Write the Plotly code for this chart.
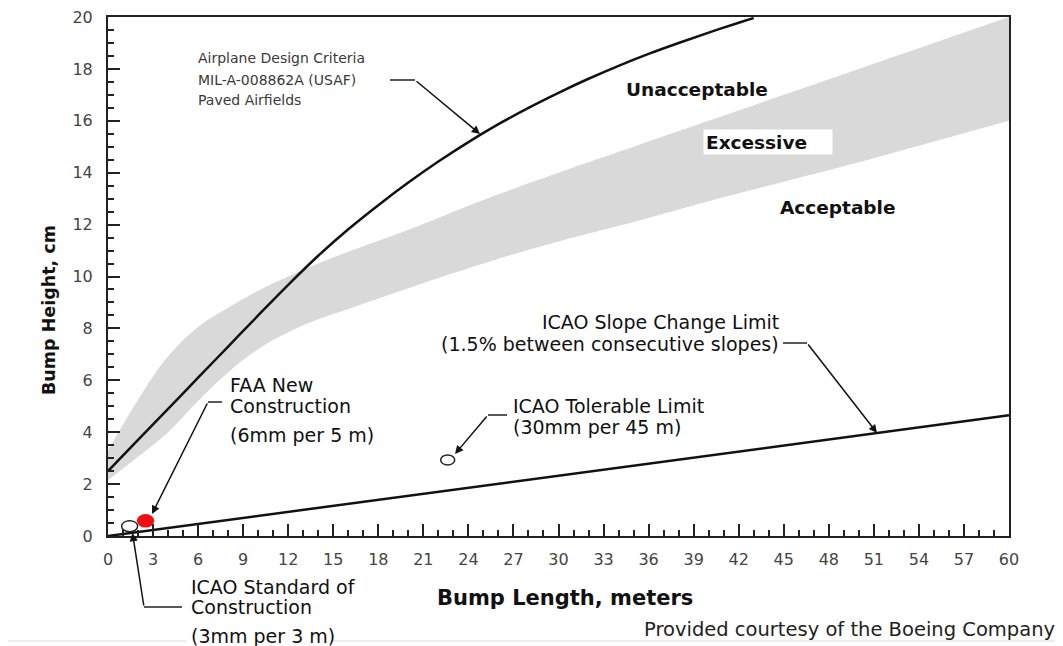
import plotly.graph_objects as go

# ---------------- data ----------------
# Airplane design criteria curve (MIL-A-008862A, paved airfields)
criteria_x = [0, 2, 4, 6, 8, 10, 12, 14, 16, 18, 20, 22, 24, 26, 28, 30, 32, 34, 36, 38, 40, 42, 43]
criteria_y = [2.5, 3.7, 4.9, 6.1, 7.3, 8.5, 9.68, 10.8, 11.82, 12.75, 13.62, 14.43, 15.18, 15.87,
              16.5, 17.08, 17.62, 18.12, 18.58, 19.0, 19.4, 19.78, 19.96]

# "Excessive" grey band - upper and lower edges
band_upper_x = [0, 1, 2, 3, 4, 6, 8, 10, 12, 14, 16, 20, 25, 30, 35, 40, 45, 50, 55, 60]
band_upper_y = [3.3, 4.3, 5.25, 6.15, 6.92, 8.05, 8.8, 9.45, 10.0, 10.5, 10.95, 11.8, 12.95,
                14.0, 15.0, 16.0, 17.0, 18.0, 19.0, 20.0]
band_lower_x = [0, 2, 4, 6, 8, 10, 12, 14, 16, 20, 25, 30, 35, 40, 45, 50, 55, 60]
band_lower_y = [2.15, 3.05, 4.0, 5.2, 6.3, 7.2, 7.85, 8.35, 8.75, 9.55, 10.5, 11.35, 12.1, 12.9,
                13.65, 14.4, 15.2, 16.0]

# ICAO slope change limit line
icao_x = [0, 60]
icao_y = [0, 4.65]

# Point criteria (ICAO standard, FAA new construction, ICAO tolerable)
point_names = ["ICAO Standard of Construction", "FAA New Construction", "ICAO Tolerable Limit"]
point_x = [1.44, 2.50, 22.62]
point_y = [0.38, 0.585, 2.93]
point_fill = ["white", "#ee1111", "white"]
point_w_px = [16, 16, 14]
point_h_px = [11, 12, 10]

x_ticks = list(range(0, 61, 3))
y_ticks = list(range(0, 21, 2))

# ---------------- layout geometry ----------------
OFF = 8                      # page body margin added by the browser
PAGE_W, PAGE_H = 1063, 646
PAGE_L, PAGE_T, PAGE_R, PAGE_B = 108, 17, 1009, 536
W, H = PAGE_W - OFF, PAGE_H - OFF
ML, MT = PAGE_L - OFF, PAGE_T - OFF
MR = W - (PAGE_R - OFF)
MB = H - (PAGE_B - OFF)
PW = PAGE_R - PAGE_L
PH = PAGE_B - PAGE_T
XR = (0, 60)
YR = (0, 20)
PX_PER_X = PW / (XR[1] - XR[0])
PX_PER_Y = PH / (YR[1] - YR[0])


def dx(px):  # page pixel x -> data x
    return (px - PAGE_L) / PX_PER_X


def dy(py):  # page pixel y -> data y
    return (PAGE_B - py) / PX_PER_Y


def paper_x(px):
    return (px - PAGE_L) / PW


def paper_y(py):
    return (PAGE_B - py) / PH


FONT = "DejaVu Sans"
fig = go.Figure()

# grey band (lower edge, then upper edge filled down to it)
fig.add_trace(go.Scatter(
    x=band_lower_x, y=band_lower_y, mode="lines",
    line=dict(width=0, shape="spline", smoothing=1.2, color="#d9d9d9"),
    hoverinfo="skip", showlegend=False))
fig.add_trace(go.Scatter(
    x=band_upper_x, y=band_upper_y, mode="lines", fill="tonexty", fillcolor="#d9d9d9",
    line=dict(width=0, shape="spline", smoothing=1.3, color="#d9d9d9"),
    hoverinfo="skip", showlegend=False))

# ICAO slope change line
fig.add_trace(go.Scatter(x=icao_x, y=icao_y, mode="lines",
                         line=dict(color="#111111", width=2.5), showlegend=False))

# criteria curve
fig.add_trace(go.Scatter(x=criteria_x, y=criteria_y, mode="lines",
                         line=dict(color="#111111", width=2.5, shape="spline", smoothing=1.0),
                         showlegend=False))

shapes = []
# ellipse markers
for px_, py_, f, wpx, hpx in zip(point_x, point_y, point_fill, point_w_px, point_h_px):
    hw = wpx / 2 / PX_PER_X
    hh = hpx / 2 / PX_PER_Y
    shapes.append(dict(type="circle", xref="x", yref="y",
                       x0=px_ - hw, x1=px_ + hw, y0=py_ - hh, y1=py_ + hh,
                       fillcolor=f,
                       line=dict(color="#222222" if f == "white" else "#ee1111", width=1.5),
                       layer="above"))

# horizontal leader segments (paper coords)
leaders = [((390, 80), (415, 80)),
           ((208, 402), (222, 402)),
           ((144, 607), (182, 607)),
           ((488, 415), (507, 415)),
           ((783, 343), (807, 343))]
for (x0, y0), (x1, y1) in leaders:
    shapes.append(dict(type="line", xref="paper", yref="paper",
                       x0=paper_x(x0), x1=paper_x(x1), y0=paper_y(y0), y1=paper_y(y1),
                       line=dict(color="#222222", width=1.5)))

# faint screenshot frame lines
shapes.append(dict(type="line", xref="paper", yref="paper", x0=paper_x(8), x1=paper_x(187),
                   y0=paper_y(641), y1=paper_y(641), line=dict(color="#dddddd", width=1)))
shapes.append(dict(type="line", xref="paper", yref="paper", x0=paper_x(330), x1=paper_x(1060),
                   y0=paper_y(641), y1=paper_y(641), line=dict(color="#dddddd", width=1)))
shapes.append(dict(type="line", xref="paper", yref="paper", x0=paper_x(1061), x1=paper_x(1061),
                   y0=paper_y(77), y1=paper_y(641), line=dict(color="#dddddd", width=1)))

annotations = []


def text(px, py, s, size=19, color="#111111", anchor="left", bold=False):
    annotations.append(dict(
        x=paper_x(px), y=paper_y(py), xref="paper", yref="paper",
        text=("<b>%s</b>" % s) if bold else s, showarrow=False,
        xanchor=anchor, yanchor="middle",
        font=dict(family=FONT, size=size, color=color)))


def arrow(tail, tip):
    annotations.append(dict(
        x=dx(tip[0]), y=dy(tip[1]), xref="x", yref="y",
        ax=tail[0] - tip[0], ay=tail[1] - tip[1], axref="pixel", ayref="pixel",
        text="", showarrow=True, arrowhead=2, arrowsize=1.1, arrowwidth=1.5,
        arrowcolor="#111111", standoff=0, startstandoff=0))


# criteria label
text(196, 58, "Airplane Design Criteria", size=14, color="#3a3a3a")
text(196, 80, "MIL-A-008862A (USAF)", size=14, color="#3a3a3a")
text(196, 100, "Paved Airfields", size=14, color="#3a3a3a")
arrow((415, 80), (480, 134))

# region labels
text(697, 89, "Unacceptable", size=18.5, anchor="center", bold=True)
annotations.append(dict(
    x=dx(703), y=dy(142), xref="x", yref="y", xanchor="left", yanchor="middle",
    text="<b>Excessive</b>", showarrow=False, align="left", width=124, height=20,
    bgcolor="white", borderpad=2,
    font=dict(family=FONT, size=18.5, color="#111111")))
text(838, 207, "Acceptable", size=18.5, anchor="center", bold=True)

# FAA
text(228, 385, "FAA New")
text(228, 406, "Construction")
text(228, 435, "(6mm per 5 m)")
arrow((208, 402), (152, 514))

# ICAO standard
text(189, 587, "ICAO Standard of")
text(189, 607, "Construction")
text(189, 636, "(3mm per 3 m)")
arrow((144, 607), (132.5, 533))

# ICAO tolerable
text(511, 406, "ICAO Tolerable Limit")
text(511, 427, "(30mm per 45 m)")
arrow((488, 415), (455, 454))

# ICAO slope change
text(781, 322, "ICAO Slope Change Limit", anchor="right")
text(781, 344, "(1.5% between consecutive slopes)", anchor="right")
arrow((807, 343), (877, 433))

# axis titles & credit
text(565, 598, "Bump Length, meters", size=21, anchor="center", bold=True)
annotations.append(dict(
    x=paper_x(49), y=paper_y(310), xref="paper", yref="paper", text="<b>Bump Height, cm</b>",
    showarrow=False, textangle=-90, xanchor="center", yanchor="middle",
    font=dict(family=FONT, size=17.5, color="#111111")))
text(1057, 629, "Provided courtesy of the Boeing Company", size=19.5, anchor="right", color="#222222")

axis_common = dict(showgrid=False, zeroline=False, showline=True, mirror=True,
                   linecolor="#222222", linewidth=2, ticks="inside", ticklen=12,
                   tickwidth=1.5, tickcolor="#222222", automargin=False,
                   ticklabeloverflow="allow",
                   tickfont=dict(family=FONT, size=16, color="#444444"))

fig.update_layout(
    width=W, height=H,
    margin=dict(l=ML, r=MR, t=MT, b=MB, autoexpand=False),
    paper_bgcolor="white", plot_bgcolor="white",
    showlegend=False,
    xaxis=dict(range=list(XR), tickvals=x_ticks, ticklabelstandoff=8,
               minor=dict(dtick=1, ticks="inside", ticklen=6, tickwidth=1.5, tickcolor="#222222"),
               **axis_common),
    yaxis=dict(range=list(YR), tickvals=y_ticks, ticklabelstandoff=10,
               minor=dict(dtick=0.5, ticks="inside", ticklen=6, tickwidth=1.5, tickcolor="#222222"),
               **axis_common),
    shapes=shapes,
    annotations=annotations,
)

fig.write_html("out.html")
